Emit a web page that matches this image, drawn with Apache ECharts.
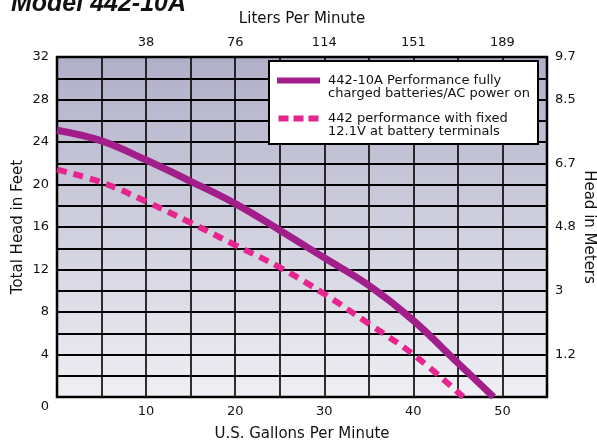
<!DOCTYPE html>
<html>
<head>
<meta charset="utf-8">
<script src="https://cdn.jsdelivr.net/npm/echarts@6/dist/echarts.min.js"></script>
<style>
html,body{margin:0;padding:0;background:#fff;overflow:hidden;}
#c{position:absolute;left:0;top:0;width:597px;height:443px;}
</style>
</head>
<body>
<div id="c"></div>
<script>
// ---- data ----
var seriesNames = ['442-10A Performance fully\ncharged batteries/AC power on', '442 performance with fixed\n12.1V at battery terminals'];
var fullGpm  = [0, 5, 10, 15, 20, 25, 30, 35, 40, 45, 49.0];
var fullHead = [25.1, 24.1, 22.3, 20.3, 18.2, 15.7, 13.1, 10.5, 7.2, 3.2, 0];
var fixedGpm  = [0, 5, 10, 15, 20, 25, 30, 35, 40, 45.6];
var fixedHead = [21.4, 20.2, 18.4, 16.4, 14.3, 12.2, 9.7, 6.9, 4.0, 0];
var gpmLabelValues = [10, 20, 30, 40, 50];
var literLabels = ['38', '76', '114', '151', '189'];
var meterTickFeet = [4, 10, 16, 22, 28, 32];
var meterLabels = ['1.2', '3', '4.8', '6.7', '8.5', '9.7'];

function pairs(xs, ys) { return xs.map(function (x, i) { return [x, ys[i]]; }); }

var FONT = 'DejaVu Sans';
var TFONT = 'Liberation Sans';
var dom = document.getElementById('c');
var chart = echarts.init(dom, null, { width: 597, height: 443 });
var axisLine = { show: false };
var option = {
  animation: false,
  backgroundColor: '#ffffff',
  textStyle: { fontFamily: FONT, color: '#111' },
  title: {
    text: 'Model 442-10A',
    left: 6, top: -13,
    textStyle: { fontFamily: TFONT, fontSize: 25, fontWeight: 'bold', fontStyle: 'italic', color: '#111' }
  },
  grid: {
    left: 57, right: 50, top: 57, bottom: 46,
    outerBoundsMode: 'none',
    containLabel: false,
    show: true,
    borderColor: '#000', borderWidth: 2.5,
    backgroundColor: new echarts.graphic.LinearGradient(0, 0, 0, 1, [
      { offset: 0, color: '#b0afc8' }, { offset: 1, color: '#efeff4' }
    ])
  },
  legend: {
    left: 269, top: 61,
    orient: 'vertical',
    backgroundColor: '#fff',
    borderColor: '#000', borderWidth: 2,
    padding: [0, 8, 6, 8],
    itemWidth: 43, itemHeight: 6, itemGap: -1,
    formatter: function (name) { return '\n' + name; },
    textStyle: { fontFamily: FONT, fontSize: 13, lineHeight: 13, color: '#111', padding: [0, 0, 0, 3] },
    data: [
      { name: seriesNames[0], icon: 'rect', itemStyle: { color: '#a21f8b' } },
      { name: seriesNames[1], icon: 'path://M0,0h10v6h-10z M15,0h10v6h-10z M30,0h10v6h-10z', itemStyle: { color: '#e6258e' } }
    ]
  },
  xAxis: [
    {
      type: 'value', position: 'bottom', min: 0, max: 55, interval: 5,
      name: 'U.S. Gallons Per Minute', nameLocation: 'middle', nameGap: 30, nameMoveOverlap: false,
      nameTextStyle: { fontFamily: FONT, fontSize: 15, color: '#111' },
      axisLine: axisLine, axisTick: { show: false },
      axisLabel: { margin: 8, fontSize: 13, color: '#111', fontFamily: FONT,
        formatter: function (v) { return gpmLabelValues.indexOf(v) >= 0 ? String(v) : ''; } },
      splitLine: { show: true, lineStyle: { color: '#000', width: 1.6 } }
    },
    {
      type: 'value', position: 'top', min: 0, max: 55, interval: 5,
      name: 'Liters Per Minute', nameLocation: 'middle', nameGap: 30, nameMoveOverlap: false,
      nameTextStyle: { fontFamily: FONT, fontSize: 15, color: '#111' },
      axisLine: axisLine, axisTick: { show: false },
      axisLabel: { margin: 8, fontSize: 13, color: '#111', fontFamily: FONT,
        formatter: function (v) { var i = gpmLabelValues.indexOf(v); return i >= 0 ? literLabels[i] : ''; } },
      splitLine: { show: false }
    }
  ],
  yAxis: [
    {
      type: 'value', position: 'left', min: 0, max: 32, interval: 2,
      name: 'Total Head in Feet', nameLocation: 'middle', nameGap: 31, nameRotate: 90, nameMoveOverlap: false,
      nameTextStyle: { fontFamily: FONT, fontSize: 15, color: '#111' },
      axisLine: axisLine, axisTick: { show: false },
      axisLabel: { margin: 8, fontSize: 13, color: '#111', fontFamily: FONT,
        formatter: function (v) {
          if (v === 0) return '{z|0}';
          return v % 4 === 0 ? String(v) : '';
        },
        rich: { z: { fontSize: 13, fontFamily: FONT, color: '#111', padding: [19, 0, 0, 0] } }
      },
      splitLine: { show: true, lineStyle: { color: '#000', width: 2 } }
    },
    {
      type: 'value', position: 'right', min: 0, max: 32, interval: 2,
      name: 'Head in Meters', nameLocation: 'middle', nameGap: 34, nameRotate: -90, nameMoveOverlap: false,
      nameTextStyle: { fontFamily: FONT, fontSize: 15, color: '#111' },
      axisLine: axisLine, axisTick: { show: false },
      axisLabel: { margin: 8, fontSize: 13, color: '#111', fontFamily: FONT,
        formatter: function (v) { var i = meterTickFeet.indexOf(v); return i >= 0 ? meterLabels[i] : ''; } },
      splitLine: { show: false }
    }
  ],
  series: [
    {
      name: seriesNames[0], type: 'line', smooth: 0.4, symbol: 'none',
      data: pairs(fullGpm, fullHead),
      lineStyle: { color: '#a21f8b', width: 7 },
      itemStyle: { color: '#a21f8b' },
      z: 3
    },
    {
      name: seriesNames[1], type: 'line', smooth: 0.4, symbol: 'none',
      data: pairs(fixedGpm, fixedHead),
      lineStyle: { color: '#e6258e', width: 6, type: [10, 7], cap: 'butt' },
      itemStyle: { color: '#e6258e' },
      z: 3
    }
  ]
};
chart.setOption(option);
</script>
</body>
</html>
